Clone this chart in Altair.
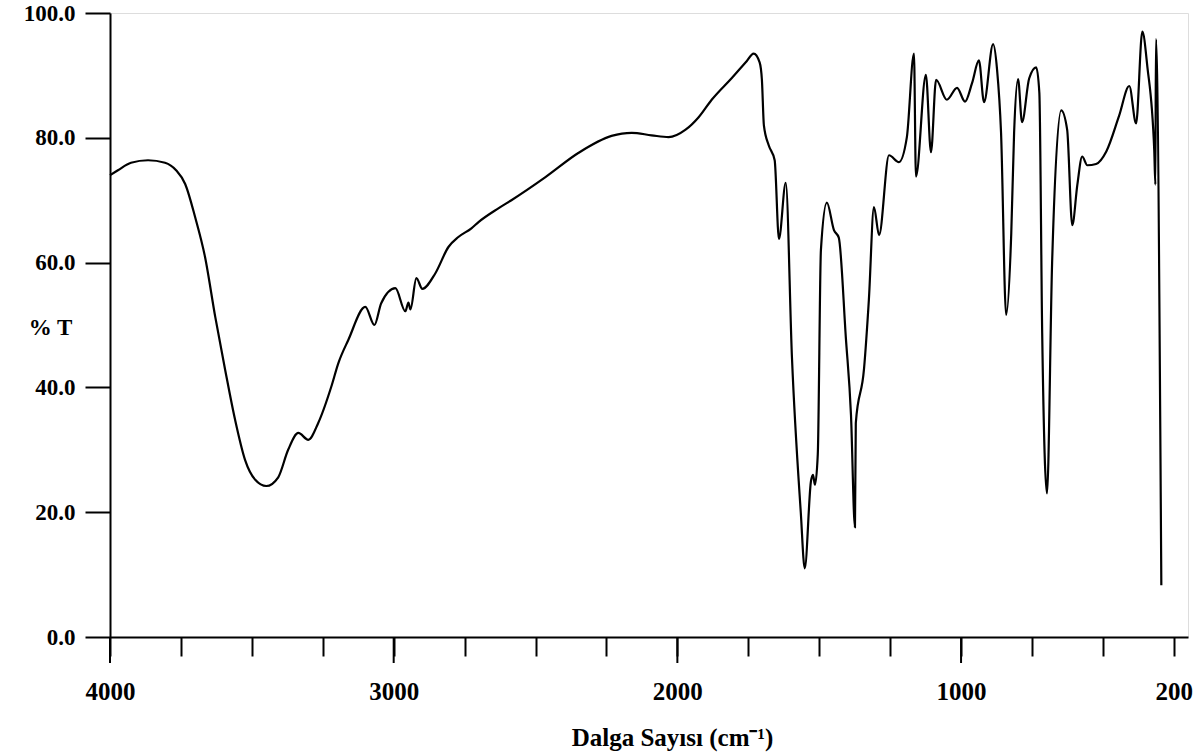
import altair as alt
import pandas as pd

# IR spectrum
wavenumber = [
    4000, 3972, 3926, 3866, 3806, 3767, 3735, 3700, 3665, 3629, 3594, 3559, 3524,
    3488, 3449, 3407, 3372, 3336, 3301, 3266, 3220, 3195, 3160, 3100, 3068, 3044,
    2994, 2959, 2948, 2941, 2920, 2899, 2853, 2807, 2772, 2726, 2701, 2631, 2585,
    2465, 2348, 2232, 2161, 2091, 2031, 1971, 1925, 1879, 1808, 1759, 1731, 1710,
    1702, 1695, 1678, 1657, 1642, 1618, 1596, 1565, 1551, 1529, 1522, 1515, 1505,
    1494, 1473, 1448, 1431, 1406, 1388, 1374, 1371, 1342, 1325, 1307, 1289, 1254,
    1219, 1191, 1166, 1159, 1124, 1106, 1088, 1050, 1014, 986, 961, 937, 919, 887,
    873, 859, 841, 823, 813, 799, 785, 760, 735, 724, 714, 697, 679, 647, 626, 608,
    590, 573, 555, 524, 488, 443, 407, 383, 361, 343, 319, 315, 313, 294,
]
transmittance = [
    74.0, 74.8, 76.0, 76.4, 76.0, 74.8, 72.6, 67.3, 60.9, 51.3, 42.8, 34.8, 28.4,
    25.2, 24.2, 25.6, 30.0, 32.7, 31.6, 34.3, 40.1, 43.9, 47.6, 52.9, 50.0, 53.5,
    55.9, 52.2, 53.6, 52.5, 57.5, 55.8, 58.3, 62.5, 64.1, 65.5, 66.5, 68.7, 70.0,
    73.7, 77.6, 80.3, 80.8, 80.4, 80.1, 81.3, 83.3, 86.1, 89.6, 92.1, 93.5, 92.1,
    89.3, 82.0, 78.8, 76.4, 63.8, 72.8, 44.7, 20.0, 11.0, 25.0, 26.0, 24.4, 29.3,
    62.0, 69.6, 65.2, 64.0, 47.9, 35.6, 17.6, 34.3, 43.0, 54.0, 68.9, 64.4, 77.2,
    76.1, 80.1, 93.5, 73.8, 90.1, 77.7, 89.3, 86.1, 88.0, 85.8, 88.8, 92.4, 85.7, 95.0,
    90.9, 80.8, 51.6, 64.7, 80.8, 89.4, 82.5, 89.5, 91.3, 87.2, 48.7, 23.0, 60.0, 84.4,
    81.3, 66.0, 72.5, 77.0, 75.6, 75.8, 77.8, 83.5, 88.3, 82.3, 97.0, 91.3, 78.0, 72.5,
    95.8, 8.3,
]

x_ticks = [4000, 3750, 3500, 3250, 3000, 2750, 2500, 2250, 2000, 1750, 1500,
           1250, 1000, 750, 500, 250]
major_ticks = [4000, 3000, 2000, 1000]
y_ticks = [0, 20, 40, 60, 80, 100]

df = pd.DataFrame({"w": wavenumber, "t": transmittance, "i": range(len(wavenumber))})
major_df = pd.DataFrame({"w": major_ticks})

FONT = "Liberation Serif"

xscale = alt.Scale(domain=[200, 4000], reverse=True, nice=False, zero=False)
yscale = alt.Scale(domain=[0, 100], nice=False)

line = alt.Chart(df).mark_line(color="black", strokeWidth=2.2, interpolate="monotone").encode(
    x=alt.X("w:Q", scale=xscale,
            axis=alt.Axis(values=x_ticks, format="d",
                          labelExpr="datum.value == 250 ? '200' : (datum.value % 1000 == 0 ? datum.label : '')",
                          tickSize=19, tickWidth=2, tickColor="black",
                          domainColor="black", domainWidth=2,
                          labelFont=FONT, labelFontSize=25, labelFontWeight="bold",
                          labelColor="black", labelPadding=23, labelFlush=False,
                          grid=False,
                          title="Dalga Sayısı (cm⁻¹)", titleFont=FONT, titleFontSize=25,
                          titleFontWeight="bold", titleColor="black",
                          titleX=562, titleY=88, titleBaseline="top")),
    y=alt.Y("t:Q", scale=yscale,
            axis=alt.Axis(values=y_ticks, format=".1f",
                          tickSize=25, tickWidth=2, tickColor="black",
                          domainColor="black", domainWidth=2,
                          labelFont=FONT, labelFontSize=23, labelFontWeight="bold",
                          labelColor="black", labelPadding=10, grid=False,
                          title="% T", titleFont=FONT, titleFontSize=23,
                          titleFontWeight="bold", titleColor="black", titleAngle=0,
                          titleX=-60, titleY=314, titleAlign="center",
                          titleBaseline="middle")),
    order="i:Q",
)

majors = alt.Chart(major_df).mark_rule(color="black", strokeWidth=2).encode(
    x=alt.X("w:Q", scale=xscale),
    y=alt.value(624),
    y2=alt.value(650),
)

chart = alt.layer(line, majors).properties(
    width=1078, height=624,
    autosize=alt.AutoSizeParams(type="none"),
    padding={"left": 110, "top": 13, "right": 12, "bottom": 118},
).configure_view(stroke="black", strokeWidth=2).configure(background="white")

chart.save("out.html", embed_options={"renderer": "svg", "actions": False})
